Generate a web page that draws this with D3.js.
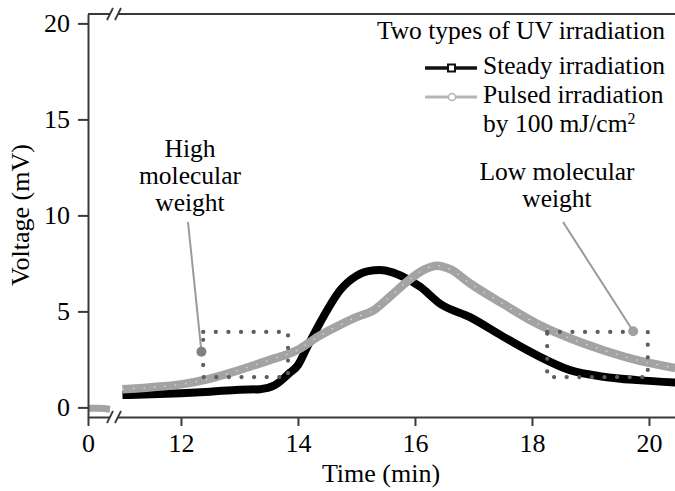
<!DOCTYPE html>
<html>
<head>
<meta charset="utf-8">
<script src="https://cdn.jsdelivr.net/npm/d3@7/dist/d3.min.js"></script>
<style>
  html, body { margin: 0; padding: 0; background: #fff; }
  svg text { font-family: "Liberation Serif", "Times New Roman", serif; fill: #000; }
</style>
</head>
<body>
<svg id="chart" width="675" height="491"></svg>
<script>
// Retention time (min) and detector voltage (mV)
const steadyTime = [11.0, 11.5, 12.0, 12.5, 13.0, 13.35, 13.6, 13.86, 14.0, 14.15, 14.43, 14.72, 15.0, 15.2, 15.4, 15.6, 15.8, 16.09, 16.43, 16.94, 17.5, 18.08, 18.65, 19.22, 19.8, 20.45];
const steadyVolt = [0.64, 0.68, 0.74, 0.82, 0.92, 0.95, 1.15, 1.8, 2.2, 3.1, 4.7, 6.1, 6.85, 7.1, 7.15, 7.05, 6.8, 6.28, 5.4, 4.7, 3.7, 2.72, 1.94, 1.6, 1.42, 1.3];

const pulsedTime = [11.0, 11.5, 12.0, 12.5, 13.0, 13.5, 14.0, 14.35, 14.72, 15.0, 15.3, 15.57, 15.86, 16.14, 16.38, 16.6, 16.94, 17.5, 18.08, 18.65, 19.22, 19.8, 20.45];
const pulsedVolt = [0.95, 1.05, 1.2, 1.5, 1.95, 2.45, 3.0, 3.7, 4.3, 4.7, 5.07, 5.76, 6.54, 7.15, 7.38, 7.2, 6.46, 5.4, 4.37, 3.6, 2.98, 2.46, 2.05];

// baseline before the axis break
const leadTime = [0, 0.2, 0.4];
const leadVolt = [-0.05, -0.05, -0.1];

const xTicks = [0, 12, 14, 16, 18, 20];
const yTicks = [0, 5, 10, 15, 20];

const seriesNames = ["Steady irradiation", "Pulsed irradiation"];
const legendTitle = "Two types of UV irradiation";

// annotated fractions: dotted boxes [t0, t1, v0, v1] and marker points
const boxHigh = [12.38, 13.83, 1.58, 3.93];
const boxLow = [18.26, 19.98, 1.58, 3.93];
const dotHigh = [12.35, 2.9];
const dotLow = [19.73, 3.97];

const svg = d3.select("#chart");
const serif = "'Liberation Serif', 'Times New Roman', serif";

// broken time axis: 0–0.4 then 10.9 onwards
const x = d3.scaleLinear()
  .domain([0, 0.4, 10.9, 20.45])
  .range([88, 110, 116.6, 675.3]);
const y = d3.scaleLinear().domain([-0.5, 20.49]).range([417, 14]);

const axisColor = "#3a3a3a";

// curves
const line = d3.line().x(d => x(d[0])).y(d => y(d[1])).curve(d3.curveMonotoneX);
const steady = steadyTime.map((t, i) => [t, steadyVolt[i]]);
const pulsed = pulsedTime.map((t, i) => [t, pulsedVolt[i]]);
const lead = leadTime.map((t, i) => [t, leadVolt[i]]);

svg.append("path").attr("d", line(steady))
  .attr("fill", "none").attr("stroke", "#000").attr("stroke-width", 8);
svg.append("path").attr("d", line(lead))
  .attr("fill", "none").attr("stroke", "#a3a3a3").attr("stroke-width", 7);
svg.append("path").attr("d", line(pulsed))
  .attr("fill", "none").attr("stroke", "#a3a3a3").attr("stroke-width", 8.5);
// open-circle markers showing through the grey band
svg.append("path").attr("d", line(pulsed))
  .attr("fill", "none").attr("stroke", "#d6d6d6").attr("stroke-width", 1.4)
  .attr("stroke-dasharray", "1.5 9");

// dotted boxes around the two fractions
function dottedBox(b) {
  svg.append("rect")
    .attr("x", x(b[0])).attr("y", y(b[3]))
    .attr("width", x(b[1]) - x(b[0])).attr("height", y(b[2]) - y(b[3]))
    .attr("fill", "none").attr("stroke", "#5e5e5e").attr("stroke-width", 4.2)
    .attr("stroke-linecap", "round").attr("stroke-dasharray", "0.1 12.5");
}
dottedBox(boxHigh);
dottedBox(boxLow);

// leader lines and markers
svg.append("line").attr("x1", 188).attr("y1", 222)
  .attr("x2", x(dotHigh[0])).attr("y2", y(dotHigh[1]))
  .attr("stroke", "#9a9a9a").attr("stroke-width", 2);
svg.append("line").attr("x1", 563).attr("y1", 222)
  .attr("x2", x(dotLow[0])).attr("y2", y(dotLow[1]))
  .attr("stroke", "#9a9a9a").attr("stroke-width", 2);
svg.append("circle").attr("cx", x(dotHigh[0])).attr("cy", y(dotHigh[1])).attr("r", 5).attr("fill", "#808080");
svg.append("circle").attr("cx", x(dotLow[0])).attr("cy", y(dotLow[1])).attr("r", 5).attr("fill", "#a0a0a0");

// axes
const yAxis = d3.axisLeft(y).tickValues(yTicks).tickSize(10).tickSizeOuter(0).tickPadding(8);
const xAxis = d3.axisBottom(x).tickValues(xTicks).tickSize(9).tickSizeOuter(0).tickPadding(8);

const gy = svg.append("g").attr("transform", "translate(88,0)").call(yAxis);
const gx = svg.append("g").attr("transform", "translate(0,417)").call(xAxis);
[gx, gy].forEach(g => {
  g.select(".domain").attr("stroke", axisColor).attr("stroke-width", 2);
  g.selectAll(".tick line").attr("stroke", axisColor).attr("stroke-width", 2);
  g.selectAll(".tick text").attr("font-size", 26).attr("fill", "#000")
    .attr("font-family", serif);
});

// top frame line
svg.append("line").attr("x1", 88).attr("x2", 675).attr("y1", 14).attr("y2", 14)
  .attr("stroke", axisColor).attr("stroke-width", 2);

// axis break marks on top frame and time axis
function breakMark(cx, cy) {
  svg.append("rect").attr("x", cx - 4).attr("y", cy - 3).attr("width", 8).attr("height", 6).attr("fill", "#fff");
  [-4, 4].forEach(dx => {
    svg.append("line")
      .attr("x1", cx + dx - 3).attr("y1", cy + 6)
      .attr("x2", cx + dx + 3).attr("y2", cy - 6)
      .attr("stroke", axisColor).attr("stroke-width", 1.8);
  });
}
breakMark(114, 14);
breakMark(114, 417);

// axis titles
svg.append("text").attr("x", 381).attr("y", 482).attr("text-anchor", "middle")
  .attr("font-size", 26).text("Time (min)");
svg.append("text").attr("transform", "translate(29,215) rotate(-90)")
  .attr("text-anchor", "middle").attr("font-size", 26).text("Voltage (mV)");

// fraction labels
["High", "molecular", "weight"].forEach((s, i) =>
  svg.append("text").attr("x", 190).attr("y", 157 + i * 27)
    .attr("text-anchor", "middle").attr("font-size", 25.5).text(s));
["Low molecular", "weight"].forEach((s, i) =>
  svg.append("text").attr("x", 557).attr("y", 180 + i * 27)
    .attr("text-anchor", "middle").attr("font-size", 25.5).text(s));

// legend
const lf = 25.5;
svg.append("text").attr("x", 665).attr("y", 39).attr("text-anchor", "end")
  .attr("font-size", lf).text(legendTitle);

svg.append("line").attr("x1", 425).attr("x2", 477).attr("y1", 68).attr("y2", 68)
  .attr("stroke", "#111").attr("stroke-width", 3.5);
svg.append("rect").attr("x", 448).attr("y", 64.5).attr("width", 7).attr("height", 7)
  .attr("fill", "#fff").attr("stroke", "#111").attr("stroke-width", 2);
svg.append("text").attr("x", 483).attr("y", 74).attr("font-size", lf).text(seriesNames[0]);

svg.append("line").attr("x1", 425).attr("x2", 477).attr("y1", 97).attr("y2", 97)
  .attr("stroke", "#b5b5b5").attr("stroke-width", 3);
svg.append("circle").attr("cx", 452).attr("cy", 97).attr("r", 3.5)
  .attr("fill", "#fff").attr("stroke", "#b5b5b5").attr("stroke-width", 1.5);
svg.append("text").attr("x", 483).attr("y", 103).attr("font-size", lf).text(seriesNames[1]);

const unit = svg.append("text").attr("x", 483).attr("y", 132).attr("font-size", lf);
unit.append("tspan").text("by 100 mJ/cm");
unit.append("tspan").attr("font-size", 16).attr("dy", -8).text("2");
</script>
</body>
</html>
